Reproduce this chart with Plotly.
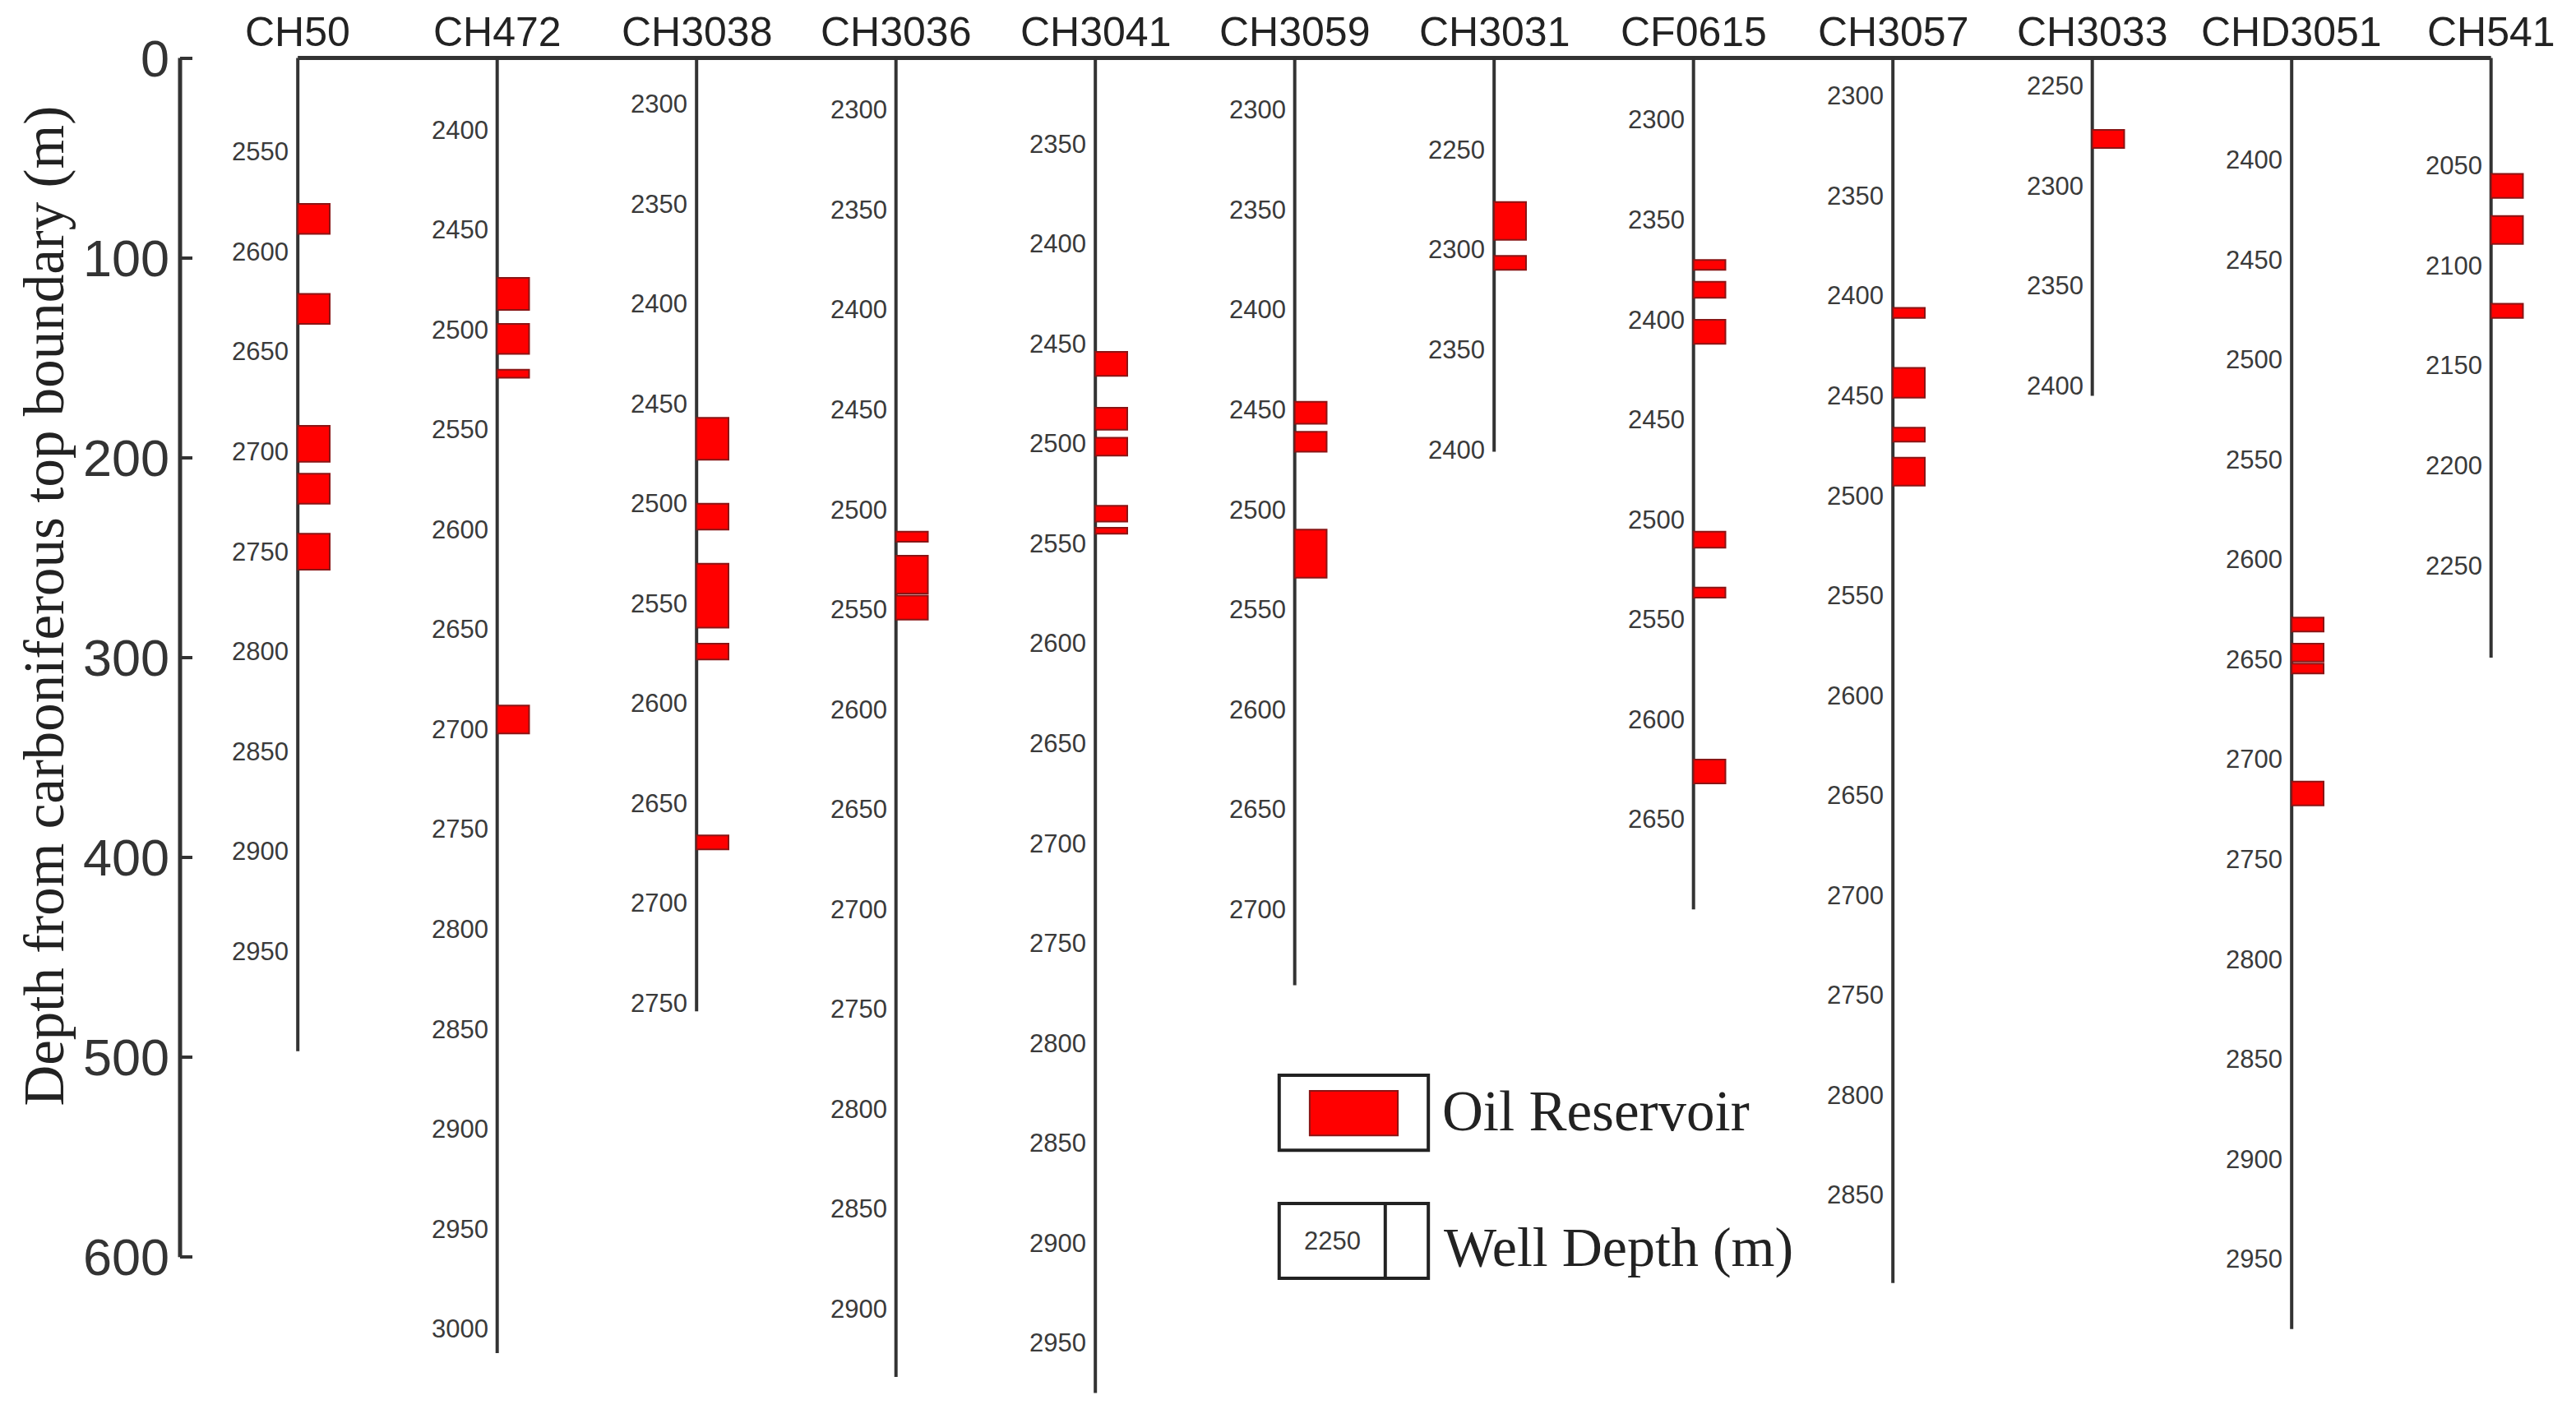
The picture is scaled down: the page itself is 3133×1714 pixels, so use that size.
import plotly.graph_objects as go

# --- well data (depths in m) ---
wells = ["CH50", "CH472", "CH3038", "CH3036", "CH3041", "CH3059",
         "CH3031", "CF0615", "CH3057", "CH3033", "CHD3051", "CH541"]

# depth at the carboniferous top boundary, and depth at the bottom of each log
well_top = [2503, 2364, 2277, 2274, 2307, 2274, 2204, 2269, 2281, 2236, 2349, 1996]
well_bottom = [3000, 3012, 2754, 2934, 2975, 2738, 2401, 2695, 2894, 2405, 2985, 2296]

depth_labels = [
    [2550, 2600, 2650, 2700, 2750, 2800, 2850, 2900, 2950],
    [2400, 2450, 2500, 2550, 2600, 2650, 2700, 2750, 2800, 2850, 2900, 2950, 3000],
    [2300, 2350, 2400, 2450, 2500, 2550, 2600, 2650, 2700, 2750],
    [2300, 2350, 2400, 2450, 2500, 2550, 2600, 2650, 2700, 2750, 2800, 2850, 2900],
    [2350, 2400, 2450, 2500, 2550, 2600, 2650, 2700, 2750, 2800, 2850, 2900, 2950],
    [2300, 2350, 2400, 2450, 2500, 2550, 2600, 2650, 2700],
    [2250, 2300, 2350, 2400],
    [2300, 2350, 2400, 2450, 2500, 2550, 2600, 2650],
    [2300, 2350, 2400, 2450, 2500, 2550, 2600, 2650, 2700, 2750, 2800, 2850],
    [2250, 2300, 2350, 2400],
    [2400, 2450, 2500, 2550, 2600, 2650, 2700, 2750, 2800, 2850, 2900, 2950],
    [2050, 2100, 2150, 2200, 2250],
]

# oil reservoir intervals (top, base)
reservoirs = [
    [(2576, 2591), (2621, 2636), (2687, 2705), (2711, 2726), (2741, 2759)],
    [(2474, 2490), (2497, 2512), (2520, 2524), (2688, 2702)],
    [(2457, 2478), (2500, 2513), (2530, 2562), (2570, 2578), (2666, 2673)],
    [(2511, 2516), (2523, 2542), (2543, 2555)],
    [(2454, 2466), (2482, 2493), (2497, 2506), (2531, 2539), (2542, 2545)],
    [(2446, 2457), (2461, 2471), (2510, 2534)],
    [(2276, 2295), (2303, 2310)],
    [(2370, 2375), (2381, 2389), (2400, 2412), (2506, 2514), (2534, 2539), (2620, 2632)],
    [(2406, 2411), (2436, 2451), (2466, 2473), (2481, 2495)],
    [(2272, 2281)],
    [(2629, 2636), (2642, 2651), (2652, 2657), (2711, 2723)],
    [(2054, 2066), (2075, 2089), (2119, 2126)],
]

y_ticks = [0, 100, 200, 300, 400, 500, 600]

LINE = "#333333"
TEXT = "#3a3a3a"
RED = "#ff0000"
RED_EDGE = "#8a1515"
BOX_W = 0.16
SANS = "Liberation Sans, Arial, sans-serif"
SERIF = "Liberation Serif, Times New Roman, serif"

fig = go.Figure()
n = len(wells)

# top boundary line
fig.add_trace(go.Scatter(x=[0, n - 1], y=[0, 0], mode="lines",
                         line=dict(color=LINE, width=5), hoverinfo="skip"))

annotations = []
shapes = []
for i, name in enumerate(wells):
    top = well_top[i]
    fig.add_trace(go.Scatter(x=[i, i], y=[0, well_bottom[i] - top], mode="lines",
                             line=dict(color=LINE, width=4), hoverinfo="skip"))
    annotations.append(dict(x=i, y=-13, xref="x", yref="y", text=name, showarrow=False,
                            xanchor="center", yanchor="middle",
                            font=dict(family=SANS, size=50, color="#222222")))
    for d in depth_labels[i]:
        annotations.append(dict(x=i, y=d - top, xref="x", yref="y", text=str(d),
                                showarrow=False, xanchor="right", yanchor="middle",
                                xshift=-9, font=dict(family=SANS, size=31, color=TEXT)))
    for (d0, d1) in reservoirs[i]:
        shapes.append(dict(type="rect", xref="x", yref="y", x0=i, x1=i + BOX_W,
                           y0=d0 - top, y1=d1 - top, fillcolor=RED,
                           line=dict(color=RED_EDGE, width=2), layer="above"))

# left depth axis line
shapes.append(dict(type="line", xref="paper", yref="y", x0=0, x1=0, y0=0, y1=600,
                   line=dict(color=LINE, width=5)))

# y axis title
annotations.append(dict(x=-0.0565, y=274, xref="paper", yref="y",
                        text="Depth from carboniferous top boundary (m)", showarrow=False,
                        textangle=-90, xanchor="center", yanchor="middle",
                        font=dict(family=SERIF, size=69, color="#222222")))

# legend
shapes += [
    dict(type="rect", xref="x", yref="y", x0=4.922, x1=5.670, y0=509.0, y1=546.5,
         line=dict(color="#222222", width=4), fillcolor="rgba(0,0,0,0)"),
    dict(type="rect", xref="x", yref="y", x0=5.075, x1=5.517, y0=516.8, y1=539.1,
         line=dict(color=RED_EDGE, width=2), fillcolor=RED),
    dict(type="rect", xref="x", yref="y", x0=4.922, x1=5.670, y0=573.2, y1=610.6,
         line=dict(color="#222222", width=4), fillcolor="rgba(0,0,0,0)"),
    dict(type="line", xref="x", yref="y", x0=5.454, x1=5.454, y0=573.2, y1=610.6,
         line=dict(color="#222222", width=4)),
]
annotations += [
    dict(x=5.733, y=527, xref="x", yref="y", text="Oil Reservoir", showarrow=False,
         xanchor="left", yanchor="middle", font=dict(family=SERIF, size=69, color="#222222")),
    dict(x=5.187, y=592, xref="x", yref="y", text="2250", showarrow=False,
         xanchor="center", yanchor="middle", font=dict(family=SANS, size=31, color=TEXT)),
    dict(x=5.738, y=595, xref="x", yref="y", text="Well Depth (m)", showarrow=False,
         xanchor="left", yanchor="middle", font=dict(family=SERIF, size=68, color="#222222")),
]

fig.update_layout(
    width=3133, height=1714,
    margin=dict(l=211, r=0, t=0, b=0),
    paper_bgcolor="white", plot_bgcolor="white",
    showlegend=False,
    shapes=shapes, annotations=annotations,
    xaxis=dict(range=[-0.5905, 11.459], visible=False),
    yaxis=dict(range=[679.3, -25.75], tickvals=y_ticks, ticks="inside", ticklen=15,
               tickwidth=4, tickcolor=LINE, showline=False, showgrid=False, zeroline=False,
               ticklabelstandoff=12,
               tickfont=dict(family=SANS, size=63, color="#333333")),
)

fig.write_html("out.html")
